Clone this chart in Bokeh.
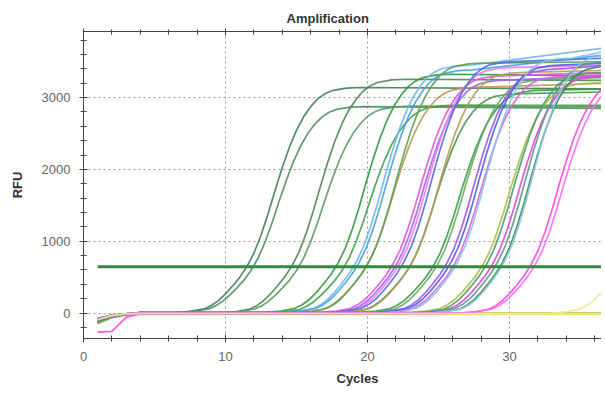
from bokeh.plotting import figure
from bokeh.models import Range1d, LinearAxis, SingleIntervalTicker, Title
from bokeh.embed import file_html
from bokeh.resources import INLINE

# ---------------- data ----------------
# normalised amplification profile (fraction of plateau) vs. cycles from threshold crossing
profile_offset = [-6, -5, -4, -3, -2.5, -2, -1.5, -1, -0.5, 0, 0.5, 1, 1.5, 2, 2.5,
                  3, 3.5, 4, 4.5, 5, 5.5, 6, 7, 8]
profile_fraction = [0.0, 0.002, 0.007, 0.018, 0.033, 0.055, 0.085, 0.12, 0.158, 0.205,
                    0.265, 0.345, 0.44, 0.545, 0.645, 0.735, 0.81, 0.87, 0.915, 0.95,
                    0.972, 0.986, 0.997, 1.0]

# per-well values
curve_shift = [11.5, 11.8, 14.7, 15.0, 17.9, 18.2, 19.2, 19.4, 19.9, 20.1,
               21.8, 22.0, 22.3, 22.6, 22.9, 23.1, 24.6, 24.9, 25.6, 25.9,
               26.1, 26.4, 28.1, 28.4, 28.8, 29.2, 29.5, 29.7, 31.5, 31.8, 37.8]
curve_plateau = [3140, 2870, 3260, 2880, 3320, 2900, 3450, 3380, 3150, 3480,
                 3300, 3250, 3420, 3500, 3060, 3350, 3100, 3260, 3400, 3450,
                 3300, 3550, 3200, 3350, 3300, 3500, 3450, 3600, 3300, 3250, 3000]
curve_end = [3120, 2850, 3240, 2870, 3300, 2890, 3700, 3600, 3200, 3500,
             3350, 3300, 3450, 3550, 3080, 3380, 3120, 3280, 3450, 3480,
             3320, 3650, 3200, 3350, 3300, 3500, 3450, 3600, 3300, 3250, 3000]
curve_color = ["#3f7f55", "#4f8f5f", "#4a8a50", "#5a9a60", "#2e9a3a", "#3ea048",
               "#70b8e8", "#4aa0e0", "#c09850", "#58a058", "#e055e0", "#a065f0",
               "#f07af0", "#4a6ee6", "#48984a", "#b89a5a", "#36a040", "#6aa86a",
               "#9a55f0", "#4a5ee8", "#e060e0", "#86c4f0", "#a8c048", "#4a9a6a",
               "#e045d5", "#5a9a8a", "#3a8a5a", "#88c8e0", "#ff45e0", "#ff6af0",
               "#eee890"]
baseline_cycles = [1, 2, 3, 4]
rfu_cycle1 = [-110, -90, -130, -100, -80, -120, -95, -105, -140, -85,
              -100, -120, -90, -110, -75, -150, -100, -130, -95, -115,
              -85, -105, -125, -100, -90, -110, -120, -95, -265, -100, -90]
rfu_cycle2 = [-45, -35, -50, -40, -30, -50, -40, -45, -55, -35,
              -40, -50, -35, -45, -30, -60, -40, -50, -35, -45,
              -35, -40, -50, -40, -35, -45, -50, -40, -255, -40, -35]
rfu_cycle3 = [-15, -10, -20, -15, -10, -20, -15, -15, -20, -10,
              -15, -20, -10, -15, -10, -25, -15, -20, -10, -15,
              -10, -15, -20, -15, -10, -15, -20, -15, -60, -15, -10]
rfu_cycle4 = [0, 5, -5, 0, 5, -5, 0, 5, -5, 0,
              5, -5, 0, 5, -5, 0, 5, -5, 0, 5,
              -5, 0, 5, -5, 0, 5, -5, 0, -10, 0, -10]
last_cycle = 37

# wells without amplification
flat_cycles = [1, 2, 3, 4, 37]
flat_yellow_a = [-110, -50, -22, -18, -16]
flat_yellow_b = [-90, -40, -15, -10, -8]
flat_olive = [-140, -60, -20, -6, -5]
flat_colors = ["#e8e030", "#f0ea70", "#8a7a40"]

threshold_rfu = 645
threshold_cycles = [1, 37]

x_ticks_major = 10
y_ticks_major = 1000

# ---------------- figure ----------------
FONT = "Liberation Sans"
p = figure(width=601, height=390, x_range=Range1d(0, 36.48), y_range=Range1d(-355, 3920),
           output_backend="svg", toolbar_location=None,
           min_border_left=83, min_border_top=31, min_border_bottom=51, min_border_right=0)
p.outline_line_color = None
p.background_fill_color = "white"
p.border_fill_color = "white"

p.title.text = "Amplification"
p.title.text_font = FONT
p.title.text_font_size = "13px"
p.title.text_font_style = "bold"
p.title.text_color = "#333333"
p.title.align = "left"
p.title.offset = 203
p.title.standoff = 5

xt = SingleIntervalTicker(interval=x_ticks_major, num_minor_ticks=5)
yt = SingleIntervalTicker(interval=y_ticks_major, num_minor_ticks=5)

for ax, t in ((p.xaxis[0], xt), (p.yaxis[0], yt)):
    ax.ticker = t
    ax.axis_line_color = "#444444"
    ax.major_tick_line_color = "#444444"
    ax.minor_tick_line_color = "#444444"
    ax.major_tick_in = 4
    ax.major_tick_out = 4
    ax.minor_tick_in = 3
    ax.minor_tick_out = 3
    ax.major_label_text_font = FONT
    ax.major_label_text_font_size = "13px"
    ax.major_label_text_color = "#666666"

p.xaxis.major_label_standoff = 9
p.yaxis.major_label_standoff = 9
p.yaxis.axis_label = "RFU"
p.yaxis.axis_label_text_font = FONT
p.yaxis.axis_label_text_font_size = "13px"
p.yaxis.axis_label_text_font_style = "bold"
p.yaxis.axis_label_text_color = "#333333"
p.yaxis.axis_label_standoff = 14

top_axis = LinearAxis(ticker=SingleIntervalTicker(interval=x_ticks_major, num_minor_ticks=5))
top_axis.axis_line_color = "#444444"
top_axis.major_tick_line_color = "#444444"
top_axis.minor_tick_line_color = "#444444"
top_axis.major_tick_in = 4
top_axis.major_tick_out = 3
top_axis.minor_tick_in = 3
top_axis.minor_tick_out = 2
top_axis.major_label_overrides = {0: "", 10: "", 20: "", 30: "", 40: ""}
top_axis.major_label_standoff = 0
p.add_layout(top_axis, "above")

xlabel = Title(text="Cycles", align="left", offset=253, text_font=FONT,
               text_font_size="13px", text_font_style="bold", text_color="#333333",
               standoff=10)
p.add_layout(xlabel, "below")

for g in (p.xgrid[0], p.ygrid[0]):
    g.grid_line_color = "#9a9a9a"
    g.grid_line_dash = "2 3"
    g.grid_line_width = 1
p.xgrid.ticker = xt
p.ygrid.ticker = yt

# flat wells
for series, col in zip((flat_olive, flat_yellow_a, flat_yellow_b), (flat_colors[2], flat_colors[0], flat_colors[1])):
    p.line(flat_cycles, series, line_color=col, line_width=2.2, line_alpha=0.9)

# amplification curves
for i in range(len(curve_shift)):
    xs = list(baseline_cycles)
    ys = [rfu_cycle1[i], rfu_cycle2[i], rfu_cycle3[i], rfu_cycle4[i]]
    for off, fr in zip(profile_offset, profile_fraction):
        c = curve_shift[i] + off
        if c <= baseline_cycles[-1]:
            continue
        xs.append(c)
        ys.append(rfu_cycle4[i] + curve_plateau[i] * fr)
    if xs[-1] < last_cycle:
        xs.append(last_cycle)
        ys.append(curve_end[i])
    p.line(xs, ys, line_color=curve_color[i], line_width=1.7, line_alpha=0.9)

# threshold
p.line(threshold_cycles, [threshold_rfu, threshold_rfu], line_color="#2f8a3c", line_width=3)

open("out.html", "w").write(file_html(p, INLINE))
